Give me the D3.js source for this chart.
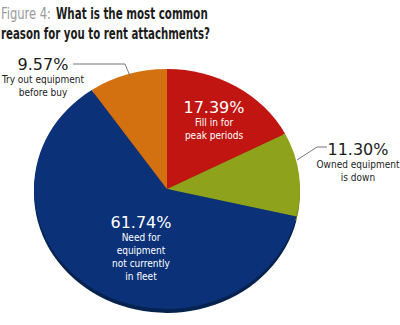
<!DOCTYPE html>
<html><head><meta charset="utf-8">
<script src="https://cdn.jsdelivr.net/npm/d3@7"></script>
<style>
html,body{margin:0;padding:0;background:#fff;}
svg{display:block;}
</style></head>
<body>
<svg id="c" width="400" height="325"></svg>
<script>
const categories = ["Fill in for peak periods", "Owned equipment is down", "Need for equipment not currently in fleet", "Try out equipment before buy"];
const values = [17.39, 11.30, 61.74, 9.57];
const pctLabels = ["17.39%", "11.30%", "61.74%", "9.57%"];
const labelLines = [["Fill in for", "peak periods"], ["Owned equipment", "is down"], ["Need for", "equipment", "not currently", "in fleet"], ["Try out equipment", "before buy"]];
const colors = ["#c01510", "#8fa21c", "#0b3279", "#d3700f"];
const darkColors = ["#8a0e0a", "#6b7a12", "#06234f", "#9a520a"];

const svg = d3.select("#c");
const cx = 167, cy = 189, rx = 133, ry = 120;

const pie = d3.pie().sort(null).value(d => d).startAngle(0).endAngle(2*Math.PI);
const arcs = pie(values);
const arc = d3.arc().innerRadius(0).outerRadius(1);

// depth
svg.append("g").attr("transform", `translate(${cx},${cy+4}) scale(${rx},${ry})`)
  .selectAll("path").data(arcs).join("path")
  .attr("d", arc).attr("fill", (d,i) => darkColors[i]);
svg.append("g").attr("transform", `translate(${cx},${cy}) scale(${rx},${ry})`)
  .selectAll("path").data(arcs).join("path")
  .attr("d", arc).attr("fill", (d,i) => colors[i]);

// title (horizontally condensed to match the narrow headline face)
const tFont = "'DejaVu Sans Condensed','Liberation Sans Narrow',sans-serif";
function squeezed(x, y, width, txt, fill, weight) {
  const t = svg.append("text").attr("x", 0).attr("y", 0)
    .attr("font-family", tFont).attr("font-weight", weight).attr("font-size", 16.5)
    .attr("fill", fill).text(txt);
  const w = t.node().getComputedTextLength();
  t.attr("transform", `translate(${x},${y}) scale(${width / w},1)`);
}
squeezed(1, 18.5, 50, "Figure 4:", "#9a9a9a", "normal");
squeezed(56, 18.5, 152, "What is the most common", "#1c1c1c", "bold");
squeezed(1, 38.5, 209, "reason for you to rent attachments?", "#1c1c1c", "bold");

// labels: positions
const labelPos = [
  {x: 214, y: 113, fill: "#fff"},
  {x: 358, y: 155, fill: "#1c1c1c"},
  {x: 141, y: 228, fill: "#fff"},
  {x: 43,  y: 70,  fill: "#1c1c1c"}
];
labelPos.forEach((p, i) => {
  svg.append("text").attr("x", p.x).attr("y", p.y).attr("text-anchor", "middle")
    .attr("font-family", "'DejaVu Sans',Verdana,sans-serif").attr("font-size", 16)
    .attr("fill", p.fill).text(pctLabels[i]);
  labelLines[i].forEach((l, j) => {
    svg.append("text").attr("x", p.x).attr("y", p.y + 13 + j*13).attr("text-anchor", "middle")
      .attr("font-family", "'DejaVu Sans Condensed','DejaVu Sans',sans-serif").attr("font-size", 10)
      .attr("fill", p.fill).text(l);
  });
});

// leader lines
svg.append("polyline").attr("points", "73,64 125,64 130,76")
  .attr("fill", "none").attr("stroke", "#777").attr("stroke-width", 1);
svg.append("polyline").attr("points", "297,160 317,147 327,147")
  .attr("fill", "none").attr("stroke", "#777").attr("stroke-width", 1);
</script>
</body></html>
